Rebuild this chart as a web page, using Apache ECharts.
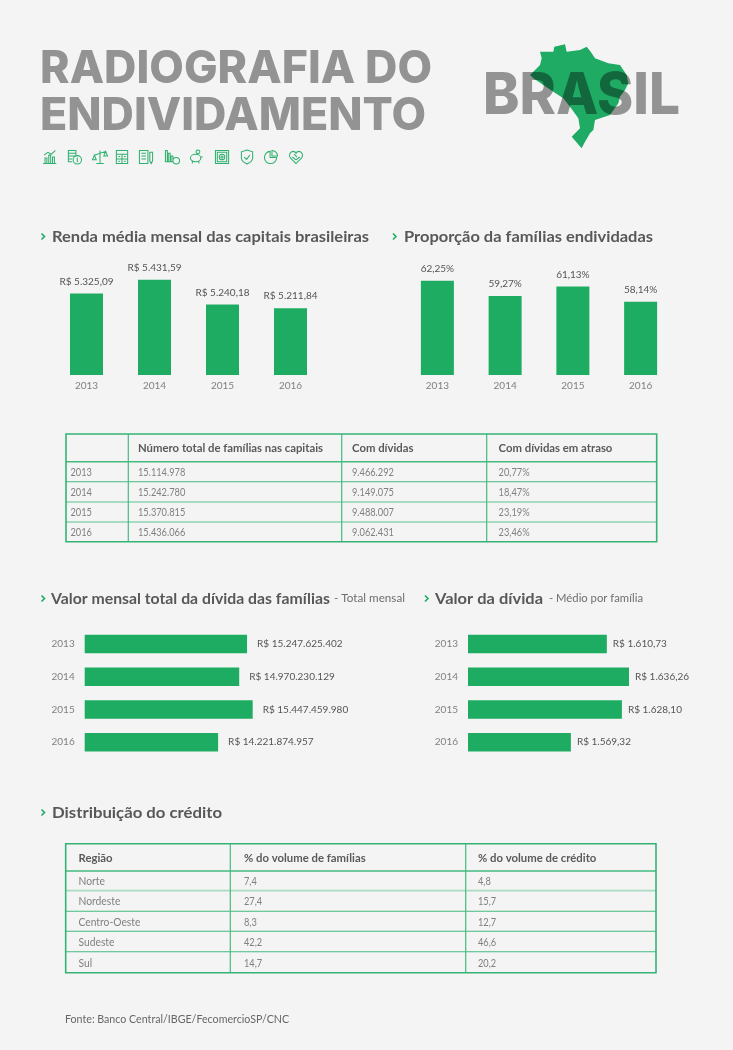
<!DOCTYPE html>
<html><head><meta charset="utf-8">
<style>html,body{margin:0;padding:0;background:#f4f4f4}#c{width:733px;height:1050px}</style>
<script src="https://cdn.jsdelivr.net/npm/echarts@6/dist/echarts.min.js"></script>
</head><body><div id="c"></div>
<script>
const years = ['2013','2014','2015','2016'];
const renda = [5325.09,5431.59,5240.18,5211.84];
const proporcao = [62.25,59.27,61.13,58.14];
const dividaTotal = [15247625402,14970230129,15447459980,14221874957];
const dividaMedia = [1610.73,1636.26,1628.10,1569.32];

const table1Header = ['','Número total de famílias nas capitais','Com dívidas','Com dívidas em atraso'];
const table1Rows = [
 ['2013','15.114.978','9.466.292','20,77%'],
 ['2014','15.242.780','9.149.075','18,47%'],
 ['2015','15.370.815','9.488.007','23,19%'],
 ['2016','15.436.066','9.062.431','23,46%']];
const table2Header = ['Região','% do volume de famílias','% do volume de crédito'];
const table2Rows = [
 ['Norte','7,4','4,8'],['Nordeste','27,4','15,7'],['Centro-Oeste','8,3','12,7'],
 ['Sudeste','42,2','46,6'],['Sul','14,7','20,2']];

const FONT='Lato', GREEN='#1eab62', LINE='#45bb80', SOFT='#a8dcc2', DARK='#58585a', MID='#7d7d7d', GREY='#939393';
const mctx=document.createElement('canvas').getContext('2d');
function T(text,x,y,o){o=o||{};
  const size=o.size||11, weight=o.weight||'normal', font=o.font||FONT;
  let sx=o.sx||1;
  if(o.w){mctx.font=weight+' '+size+'px "'+font+'"';sx=o.w/mctx.measureText(text).width;}
  return {type:'text',x:x,y:y,scaleX:sx,z:o.z||5,silent:true,
    style:{text:text,x:0,y:0,fill:o.color||MID,fontFamily:font,fontSize:size,fontWeight:weight,
    textAlign:'left',textVerticalAlign:'middle',textBaseline:'middle'}};
}
function chevron(x,y){return {type:'polyline',silent:true,z:5,shape:{points:[[x,y-3],[x+3,y],[x,y+3]]},
  style:{stroke:GREEN,lineWidth:1.6,fill:null}};}
function L(x1,y1,x2,y2,c,w){return {type:'line',silent:true,z:3,shape:{x1,y1,x2,y2},style:{stroke:c||LINE,lineWidth:w||1.2}};}

function table(header,rows,xs,rowYs,textXs,soft,out){
  const left=xs[0],right=xs[xs.length-1],top=rowYs[0],bot=rowYs[rowYs.length-1];
  rowYs.slice(1,-1).forEach((y,i)=>out.push(L(left,y,right,y,soft.includes(i)?SOFT:LINE,soft.includes(i)?1.8:(i==0?1.5:1.1))));
  xs.slice(1,-1).forEach(x=>out.push(L(x,top,x,bot,LINE,1.2)));
  out.push({type:'rect',silent:true,z:4,shape:{x:left,y:top,width:right-left,height:bot-top},style:{fill:null,stroke:'#35b374',lineWidth:1.6}});
  header.forEach((h,i)=>{if(h)out.push(T(h,textXs[i],(rowYs[0]+rowYs[1])/2+1,{size:11,weight:'bold',color:'#5a5a5a',sx:1.03}));});
  rows.forEach((r,ri)=>r.forEach((c,i)=>out.push(T(c,textXs[i],(rowYs[ri+1]+rowYs[ri+2])/2+1,{size:10.5,color:'#808080',sx:/^\d/.test(c)?0.88:0.98}))));
}

const icons=[
 'M1 15H15M3 15V9H5V15M7 15V6H9V15M11 15V8H13V15M2 6L6 3L10 5L14 1',
 'M2 1H10V4H2ZM2 4H10V7H2ZM2 7H8M2 10H6M2 7V13H6M16 11A4.5 4.5 0 1 1 7 11A4.5 4.5 0 1 1 16 11ZM11.5 8.5V13.5',
 'M8 1V14M4 15H12M2 6L14 2M2 6L0 11H4ZM14 2L12 7H16Z',
 'M2 1H14V15H2ZM2 5H14M2 10H14M8 5V15M4 7.5H6M10 7.5H12M4 12.5H6M10 12.5H12',
 'M1 1H10V15H1ZM3 4H8M3 7H8M3 10H8M12 3H15V12L13.5 15L12 12Z',
 'M1 1H3V13H1ZM4 4H6V13H4ZM7 7H9V13H7ZM16 12A3.5 3.5 0 1 1 9 12A3.5 3.5 0 1 1 16 12Z',
 'M1 9A5.5 4 0 0 1 12 9A5.5 4 0 0 1 1 9ZM3 12V15M10 12V15M11 2.5A2 2 0 1 1 7 2.5A2 2 0 1 1 11 2.5ZM12 8H14',
 'M1 1H15V15H1ZM3 3H13V13H3ZM11 8A3 3 0 1 1 5 8A3 3 0 1 1 11 8ZM8 6V10M6 8H10',
 'M8 0.5L14 2.5V9C14 12 11 14 8 15.5C5 14 2 12 2 9V2.5ZM5 8L7.5 10.5L11 6',
 'M14 8.5A6.5 6.5 0 1 1 7 2V8.5ZM9 1A6 6 0 0 1 15 7H9Z',
 'M8 15L2 9C0 6.5 1.5 2 5 2C6.5 2 7.5 3 8 4C8.5 3 9.5 2 11 2C14.5 2 16 6.5 14 9ZM4 8L8 11L12 8M6 5L9 8'
];
const iconXs=[49.7,74,100,122,146,172,197,222,247,271,296];
icons.forEach((d,i)=>echarts.graphic.registerShape('icon'+i,echarts.graphic.extendPath(d,{})));
const brazil=[[60,50],[100,50],[103,35],[135,28],[140,50],[180,45],[200,35],[212,50],[225,70],[265,85],[300,90],[320,120],[325,145],[315,165],[300,185],[295,205],[270,240],[225,255],[220,285],[210,295],[195,320],[185,340],[155,305],[180,280],[175,250],[150,215],[130,190],[100,170],[70,150],[40,130],[30,120],[60,90],[65,70]];

const g=[];
g.push(T('RADIOGRAFIA DO',40,69,{font:'Inter',size:45,weight:'800',color:GREY,w:392}));
g.push(T('ENDIVIDAMENTO',40,116.5,{font:'Inter',size:45,weight:'800',color:GREY,w:386}));
g.push(T('BRASIL',483,97,{font:'Inter',size:58,weight:'800',color:GREY,w:197}));
g.push({type:'polygon',silent:true,z:6,shape:{points:brazil.map(p=>[520+p[0]/3,35+p[1]/3])},style:{fill:'#20b368',blend:'multiply'}});
icons.forEach((d,i)=>g.push({type:'icon'+i,silent:true,z:5,x:iconXs[i]-7.5,y:149.5,scaleX:0.94,scaleY:0.94,style:{fill:null,stroke:'#2fb06f',lineWidth:1.1}}));

const H={font:'Lato',weight:'bold',size:16,color:DARK};
[['Renda média mensal das capitais brasileiras',52,236.5,317,41.5],
 ['Proporção da famílias endividadas',404,236.5,249,393],
 ['Valor mensal total da dívida das famílias',51,598.5,279,41.5],
 ['Valor da dívida',435,598.5,108,425],
 ['Distribuição do crédito',52,812.5,170,41.5]].forEach(a=>{
   g.push(chevron(a[4],a[2]));g.push(T(a[0],a[1],a[2],Object.assign({w:a[3]},H)));});
g.push(T('- Total mensal',334,598,{size:11,color:'#6e6e6e',w:71}));
g.push(T('- Médio por família',549,598,{size:11,color:'#6e6e6e',w:94}));
g.push(T('Fonte: Banco Central/IBGE/FecomercioSP/CNC',65,1019,{size:11,color:'#666',w:224}));

table(table1Header,table1Rows,[66,128.3,341.7,486.7,656.7],[434,461.7,481.7,502,522,541.7],[70.5,138,352,498.6],[2,3],g);
table(table2Header,table2Rows,[65.7,230.3,465.7,656],[843.7,871,890.7,911.3,931.3,951.7,972.7],[78.5,244,478],[1],g);

const ptBR=(v,d)=>{const p=v.toFixed(d).split('.');p[0]=p[0].replace(/\B(?=(\d{3})+$)/g,'.');return p.join(',');};
const labelStyle={show:true,color:'#555555',fontFamily:FONT,fontSize:10};
const tick={show:true,color:'#808080',fontFamily:FONT,fontSize:10};
function vbar(idx,data,fmt,min,max){return {
  x:{gridIndex:idx,type:'category',data:years,axisLine:{show:false},axisTick:{show:false},axisLabel:Object.assign({margin:6},tick)},
  y:{gridIndex:idx,type:'value',min,max,show:false,splitLine:{show:false}},
  s:{type:'bar',xAxisIndex:idx,yAxisIndex:idx,data,barWidth:33,itemStyle:{color:GREEN},
     label:Object.assign({position:'top',distance:7,formatter:fmt},labelStyle)}};}
function hbar(idx,data,fmt,min,max,dist){return {
  x:{gridIndex:idx,type:'value',min,max,show:false,splitLine:{show:false}},
  y:{gridIndex:idx,type:'category',inverse:true,data:years,axisLine:{show:false},axisTick:{show:false},axisLabel:Object.assign({margin:10},tick)},
  s:{type:'bar',xAxisIndex:idx,yAxisIndex:idx,data,barWidth:18.5,itemStyle:{color:GREEN},
     label:Object.assign({position:'right',distance:dist,formatter:fmt},labelStyle)}};}
const charts=[
 vbar(0,renda,p=>'R$ '+ptBR(p.value,2),4697,5468),
 vbar(1,proporcao,p=>ptBR(p.value,2)+'%',43.76,63.37),
 hbar(2,dividaTotal,p=>'R$ '+ptBR(p.value,0),9491000000,16583000000,10),
 hbar(3,dividaMedia,p=>'R$ '+ptBR(p.value,2),1450.8,1681.2,6)];
const grids=[
 {left:52.5,top:275,width:272,height:100},
 {left:403.5,top:275,width:271,height:100},
 {left:84.7,top:627.6,width:200,height:131},
 {left:468,top:627.6,width:200,height:131}];

const chart=echarts.init(document.getElementById('c'),null,{renderer:'canvas'});
chart.setOption({animation:false,backgroundColor:'#f4f4f4',tooltip:{show:false},
  grid:grids,xAxis:charts.map(c=>c.x),yAxis:charts.map(c=>c.y),series:charts.map(c=>c.s),graphic:{elements:g}});
</script></body></html>
